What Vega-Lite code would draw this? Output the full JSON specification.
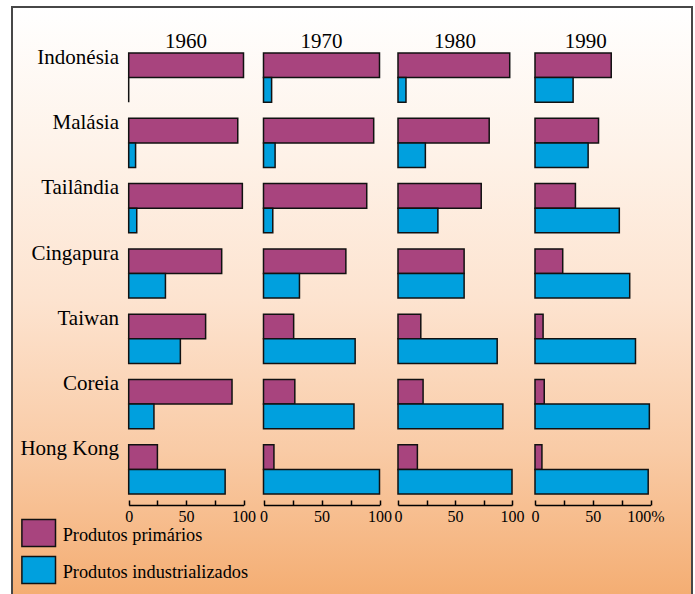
{
  "$schema": "https://vega.github.io/schema/vega-lite/v6.json",
  "width": 680,
  "height": 590,
  "autosize": {"type": "none"},
  "padding": {"left": 12, "top": 7, "right": 3, "bottom": -3},
  "background": "#ffffff",
  "config": {
    "font": "Liberation Serif",
    "view": {
      "fill": {"gradient": "linear", "x1": 0, "y1": 0, "x2": 0, "y2": 1,
        "stops": [
          {"offset": 0, "color": "#ffffff"},
          {"offset": 0.25, "color": "#fef2e8"},
          {"offset": 0.5, "color": "#fde3cf"},
          {"offset": 0.75, "color": "#f9cba6"},
          {"offset": 1, "color": "#f4ad72"}
        ]},
      "stroke": "#474747",
      "strokeWidth": 2
    }
  },
  "datasets": {
    "shares": [
      {"year": "1960", "country": "Indonésia", "product": "Produtos primários", "share": 100},
      {"year": "1960", "country": "Indonésia", "product": "Produtos industrializados", "share": 0},
      {"year": "1960", "country": "Malásia", "product": "Produtos primários", "share": 95},
      {"year": "1960", "country": "Malásia", "product": "Produtos industrializados", "share": 6},
      {"year": "1960", "country": "Tailândia", "product": "Produtos primários", "share": 99},
      {"year": "1960", "country": "Tailândia", "product": "Produtos industrializados", "share": 7},
      {"year": "1960", "country": "Cingapura", "product": "Produtos primários", "share": 81},
      {"year": "1960", "country": "Cingapura", "product": "Produtos industrializados", "share": 32},
      {"year": "1960", "country": "Taiwan", "product": "Produtos primários", "share": 67},
      {"year": "1960", "country": "Taiwan", "product": "Produtos industrializados", "share": 45},
      {"year": "1960", "country": "Coreia", "product": "Produtos primários", "share": 90},
      {"year": "1960", "country": "Coreia", "product": "Produtos industrializados", "share": 22},
      {"year": "1960", "country": "Hong Kong", "product": "Produtos primários", "share": 25},
      {"year": "1960", "country": "Hong Kong", "product": "Produtos industrializados", "share": 84},
      {"year": "1970", "country": "Indonésia", "product": "Produtos primários", "share": 100},
      {"year": "1970", "country": "Indonésia", "product": "Produtos industrializados", "share": 7},
      {"year": "1970", "country": "Malásia", "product": "Produtos primários", "share": 95},
      {"year": "1970", "country": "Malásia", "product": "Produtos industrializados", "share": 10},
      {"year": "1970", "country": "Tailândia", "product": "Produtos primários", "share": 89},
      {"year": "1970", "country": "Tailândia", "product": "Produtos industrializados", "share": 8},
      {"year": "1970", "country": "Cingapura", "product": "Produtos primários", "share": 71},
      {"year": "1970", "country": "Cingapura", "product": "Produtos industrializados", "share": 31},
      {"year": "1970", "country": "Taiwan", "product": "Produtos primários", "share": 26},
      {"year": "1970", "country": "Taiwan", "product": "Produtos industrializados", "share": 79},
      {"year": "1970", "country": "Coreia", "product": "Produtos primários", "share": 27},
      {"year": "1970", "country": "Coreia", "product": "Produtos industrializados", "share": 78},
      {"year": "1970", "country": "Hong Kong", "product": "Produtos primários", "share": 9},
      {"year": "1970", "country": "Hong Kong", "product": "Produtos industrializados", "share": 100},
      {"year": "1980", "country": "Indonésia", "product": "Produtos primários", "share": 98},
      {"year": "1980", "country": "Indonésia", "product": "Produtos industrializados", "share": 7},
      {"year": "1980", "country": "Malásia", "product": "Produtos primários", "share": 80},
      {"year": "1980", "country": "Malásia", "product": "Produtos industrializados", "share": 24},
      {"year": "1980", "country": "Tailândia", "product": "Produtos primários", "share": 73},
      {"year": "1980", "country": "Tailândia", "product": "Produtos industrializados", "share": 35},
      {"year": "1980", "country": "Cingapura", "product": "Produtos primários", "share": 58},
      {"year": "1980", "country": "Cingapura", "product": "Produtos industrializados", "share": 58},
      {"year": "1980", "country": "Taiwan", "product": "Produtos primários", "share": 20},
      {"year": "1980", "country": "Taiwan", "product": "Produtos industrializados", "share": 87},
      {"year": "1980", "country": "Coreia", "product": "Produtos primários", "share": 22},
      {"year": "1980", "country": "Coreia", "product": "Produtos industrializados", "share": 92},
      {"year": "1980", "country": "Hong Kong", "product": "Produtos primários", "share": 17},
      {"year": "1980", "country": "Hong Kong", "product": "Produtos industrializados", "share": 100},
      {"year": "1990", "country": "Indonésia", "product": "Produtos primários", "share": 66},
      {"year": "1990", "country": "Indonésia", "product": "Produtos industrializados", "share": 33},
      {"year": "1990", "country": "Malásia", "product": "Produtos primários", "share": 55},
      {"year": "1990", "country": "Malásia", "product": "Produtos industrializados", "share": 46},
      {"year": "1990", "country": "Tailândia", "product": "Produtos primários", "share": 35},
      {"year": "1990", "country": "Tailândia", "product": "Produtos industrializados", "share": 73},
      {"year": "1990", "country": "Cingapura", "product": "Produtos primários", "share": 24},
      {"year": "1990", "country": "Cingapura", "product": "Produtos industrializados", "share": 82},
      {"year": "1990", "country": "Taiwan", "product": "Produtos primários", "share": 7},
      {"year": "1990", "country": "Taiwan", "product": "Produtos industrializados", "share": 87},
      {"year": "1990", "country": "Coreia", "product": "Produtos primários", "share": 8},
      {"year": "1990", "country": "Coreia", "product": "Produtos industrializados", "share": 99},
      {"year": "1990", "country": "Hong Kong", "product": "Produtos primários", "share": 6},
      {"year": "1990", "country": "Hong Kong", "product": "Produtos industrializados", "share": 98}
    ]
  },
  "layer": [
    {
      "layer": [
        {
          "data": {"name": "shares"},
          "transform": [{"filter": "datum.year == '1960'"}],
          "mark": {"type": "bar", "stroke": "#111111", "strokeWidth": 1.5},
          "encoding": {
            "y": {"field": "country", "type": "nominal",
              "scale": {"domain": ["Indonésia", "Malásia", "Tailândia", "Cingapura", "Taiwan", "Coreia", "Hong Kong"], "range": [46, 487], "paddingInner": 0.2466, "paddingOuter": 0},
              "axis": {"orient": "left", "title": null, "domain": false, "ticks": false, "grid": false, "offset": -106.5, "labelPadding": 0, "labelFontSize": 21, "labelFont": "Liberation Serif", "labelColor": "#000000", "labelAlign": "right", "labelBaseline": "alphabetic", "labelOffset": -14, "labelLimit": 300}},
            "yOffset": {"field": "product", "type": "nominal", "scale": {"domain": ["Produtos primários", "Produtos industrializados"], "paddingInner": 0, "paddingOuter": 0}},
            "x": {"field": "share", "type": "quantitative",
              "scale": {"domain": [0, 100], "range": [116.7, 231.5], "nice": false},
              "axis": {"orient": "bottom", "title": null, "offset": -92, "values": [0, 25, 50, 75, 100], "labelExpr": "datum.value % 50 == 0 ? datum.label : ''", "grid": false, "domainColor": "#000000", "domainWidth": 1.5, "tickColor": "#000000", "tickWidth": 1.5, "tickSize": -5, "labelPadding": 8, "labelFontSize": 16, "labelFont": "Liberation Serif", "labelColor": "#000000", "labelFlush": false, "labelOverlap": false}},
            "color": {"field": "product", "type": "nominal",
              "scale": {"domain": ["Produtos primários", "Produtos industrializados"], "range": ["#a8447e", "#00a0de"]},
              "legend": {"title": null, "orient": "none", "legendX": 8.7, "legendY": 511, "symbolType": "M-1,-0.98H1V0.62H-1Z", "symbolSize": 1129, "symbolStrokeColor": "#111111", "symbolStrokeWidth": 1.5, "symbolOpacity": 1, "labelFontSize": 18.3, "labelFont": "Liberation Serif", "labelColor": "#000000", "labelOffset": 6, "rowPadding": 3, "padding": 0, "labelLimit": 400}}
          }
        },
        {
          "data": {"values": [{"year": "1960"}]},
          "mark": {"type": "text", "fontSize": 21, "font": "Liberation Serif", "baseline": "alphabetic", "align": "center", "dy": -29.3, "color": "#000000"},
          "encoding": {
            "x": {"datum": 50, "type": "quantitative"},
            "y": {"datum": "Indonésia", "type": "nominal"},
            "text": {"field": "year", "type": "nominal"}
          }
        }
      ]
    },
    {
      "layer": [
        {
          "data": {"name": "shares"},
          "transform": [{"filter": "datum.year == '1970'"}],
          "mark": {"type": "bar", "stroke": "#111111", "strokeWidth": 1.5},
          "encoding": {
            "y": {"field": "country", "type": "nominal",
              "scale": {"domain": ["Indonésia", "Malásia", "Tailândia", "Cingapura", "Taiwan", "Coreia", "Hong Kong"], "range": [46, 487], "paddingInner": 0.2466, "paddingOuter": 0},
              "axis": {"orient": "left", "title": null, "domain": false, "ticks": false, "grid": false, "offset": -106.5, "labelPadding": 0, "labelFontSize": 21, "labelFont": "Liberation Serif", "labelColor": "#000000", "labelAlign": "right", "labelBaseline": "alphabetic", "labelOffset": -14, "labelLimit": 300}},
            "yOffset": {"field": "product", "type": "nominal", "scale": {"domain": ["Produtos primários", "Produtos industrializados"], "paddingInner": 0, "paddingOuter": 0}},
            "x": {"field": "share", "type": "quantitative",
              "scale": {"domain": [0, 100], "range": [251.5, 367.5], "nice": false},
              "axis": {"orient": "bottom", "title": null, "offset": -92, "values": [0, 25, 50, 75, 100], "labelExpr": "datum.value % 50 == 0 ? datum.label : ''", "grid": false, "domainColor": "#000000", "domainWidth": 1.5, "tickColor": "#000000", "tickWidth": 1.5, "tickSize": -5, "labelPadding": 8, "labelFontSize": 16, "labelFont": "Liberation Serif", "labelColor": "#000000", "labelFlush": false, "labelOverlap": false}},
            "color": {"field": "product", "type": "nominal",
              "scale": {"domain": ["Produtos primários", "Produtos industrializados"], "range": ["#a8447e", "#00a0de"]},
              "legend": {"title": null, "orient": "none", "legendX": 8.7, "legendY": 511, "symbolType": "M-1,-0.98H1V0.62H-1Z", "symbolSize": 1129, "symbolStrokeColor": "#111111", "symbolStrokeWidth": 1.5, "symbolOpacity": 1, "labelFontSize": 18.3, "labelFont": "Liberation Serif", "labelColor": "#000000", "labelOffset": 6, "rowPadding": 3, "padding": 0, "labelLimit": 400}}
          }
        },
        {
          "data": {"values": [{"year": "1970"}]},
          "mark": {"type": "text", "fontSize": 21, "font": "Liberation Serif", "baseline": "alphabetic", "align": "center", "dy": -29.3, "color": "#000000"},
          "encoding": {
            "x": {"datum": 50, "type": "quantitative"},
            "y": {"datum": "Indonésia", "type": "nominal"},
            "text": {"field": "year", "type": "nominal"}
          }
        }
      ]
    },
    {
      "layer": [
        {
          "data": {"name": "shares"},
          "transform": [{"filter": "datum.year == '1980'"}],
          "mark": {"type": "bar", "stroke": "#111111", "strokeWidth": 1.5},
          "encoding": {
            "y": {"field": "country", "type": "nominal",
              "scale": {"domain": ["Indonésia", "Malásia", "Tailândia", "Cingapura", "Taiwan", "Coreia", "Hong Kong"], "range": [46, 487], "paddingInner": 0.2466, "paddingOuter": 0},
              "axis": {"orient": "left", "title": null, "domain": false, "ticks": false, "grid": false, "offset": -106.5, "labelPadding": 0, "labelFontSize": 21, "labelFont": "Liberation Serif", "labelColor": "#000000", "labelAlign": "right", "labelBaseline": "alphabetic", "labelOffset": -14, "labelLimit": 300}},
            "yOffset": {"field": "product", "type": "nominal", "scale": {"domain": ["Produtos primários", "Produtos industrializados"], "paddingInner": 0, "paddingOuter": 0}},
            "x": {"field": "share", "type": "quantitative",
              "scale": {"domain": [0, 100], "range": [386, 500], "nice": false},
              "axis": {"orient": "bottom", "title": null, "offset": -92, "values": [0, 25, 50, 75, 100], "labelExpr": "datum.value % 50 == 0 ? datum.label : ''", "grid": false, "domainColor": "#000000", "domainWidth": 1.5, "tickColor": "#000000", "tickWidth": 1.5, "tickSize": -5, "labelPadding": 8, "labelFontSize": 16, "labelFont": "Liberation Serif", "labelColor": "#000000", "labelFlush": false, "labelOverlap": false}},
            "color": {"field": "product", "type": "nominal",
              "scale": {"domain": ["Produtos primários", "Produtos industrializados"], "range": ["#a8447e", "#00a0de"]},
              "legend": {"title": null, "orient": "none", "legendX": 8.7, "legendY": 511, "symbolType": "M-1,-0.98H1V0.62H-1Z", "symbolSize": 1129, "symbolStrokeColor": "#111111", "symbolStrokeWidth": 1.5, "symbolOpacity": 1, "labelFontSize": 18.3, "labelFont": "Liberation Serif", "labelColor": "#000000", "labelOffset": 6, "rowPadding": 3, "padding": 0, "labelLimit": 400}}
          }
        },
        {
          "data": {"values": [{"year": "1980"}]},
          "mark": {"type": "text", "fontSize": 21, "font": "Liberation Serif", "baseline": "alphabetic", "align": "center", "dy": -29.3, "color": "#000000"},
          "encoding": {
            "x": {"datum": 50, "type": "quantitative"},
            "y": {"datum": "Indonésia", "type": "nominal"},
            "text": {"field": "year", "type": "nominal"}
          }
        }
      ]
    },
    {
      "layer": [
        {
          "data": {"name": "shares"},
          "transform": [{"filter": "datum.year == '1990'"}],
          "mark": {"type": "bar", "stroke": "#111111", "strokeWidth": 1.5},
          "encoding": {
            "y": {"field": "country", "type": "nominal",
              "scale": {"domain": ["Indonésia", "Malásia", "Tailândia", "Cingapura", "Taiwan", "Coreia", "Hong Kong"], "range": [46, 487], "paddingInner": 0.2466, "paddingOuter": 0},
              "axis": {"orient": "left", "title": null, "domain": false, "ticks": false, "grid": false, "offset": -106.5, "labelPadding": 0, "labelFontSize": 21, "labelFont": "Liberation Serif", "labelColor": "#000000", "labelAlign": "right", "labelBaseline": "alphabetic", "labelOffset": -14, "labelLimit": 300}},
            "yOffset": {"field": "product", "type": "nominal", "scale": {"domain": ["Produtos primários", "Produtos industrializados"], "paddingInner": 0, "paddingOuter": 0}},
            "x": {"field": "share", "type": "quantitative",
              "scale": {"domain": [0, 100], "range": [523, 638.5], "nice": false},
              "axis": {"orient": "bottom", "title": null, "offset": -92, "values": [0, 25, 50, 75, 100], "labelExpr": "datum.value == 100 ? '100%' : (datum.value % 50 == 0 ? datum.label : '')", "labelOffset": {"condition": {"test": "datum.value == 100", "value": -5}, "value": 0}, "grid": false, "domainColor": "#000000", "domainWidth": 1.5, "tickColor": "#000000", "tickWidth": 1.5, "tickSize": -5, "labelPadding": 8, "labelFontSize": 16, "labelFont": "Liberation Serif", "labelColor": "#000000", "labelFlush": false, "labelOverlap": false}},
            "color": {"field": "product", "type": "nominal",
              "scale": {"domain": ["Produtos primários", "Produtos industrializados"], "range": ["#a8447e", "#00a0de"]},
              "legend": {"title": null, "orient": "none", "legendX": 8.7, "legendY": 511, "symbolType": "M-1,-0.98H1V0.62H-1Z", "symbolSize": 1129, "symbolStrokeColor": "#111111", "symbolStrokeWidth": 1.5, "symbolOpacity": 1, "labelFontSize": 18.3, "labelFont": "Liberation Serif", "labelColor": "#000000", "labelOffset": 6, "rowPadding": 3, "padding": 0, "labelLimit": 400}}
          }
        },
        {
          "data": {"values": [{"year": "1990"}]},
          "mark": {"type": "text", "fontSize": 21, "font": "Liberation Serif", "baseline": "alphabetic", "align": "center", "dy": -29.3, "dx": -7, "color": "#000000"},
          "encoding": {
            "x": {"datum": 50, "type": "quantitative"},
            "y": {"datum": "Indonésia", "type": "nominal"},
            "text": {"field": "year", "type": "nominal"}
          }
        }
      ]
    }
  ],
  "resolve": {"scale": {"x": "independent"}, "axis": {"x": "independent"}}
}
